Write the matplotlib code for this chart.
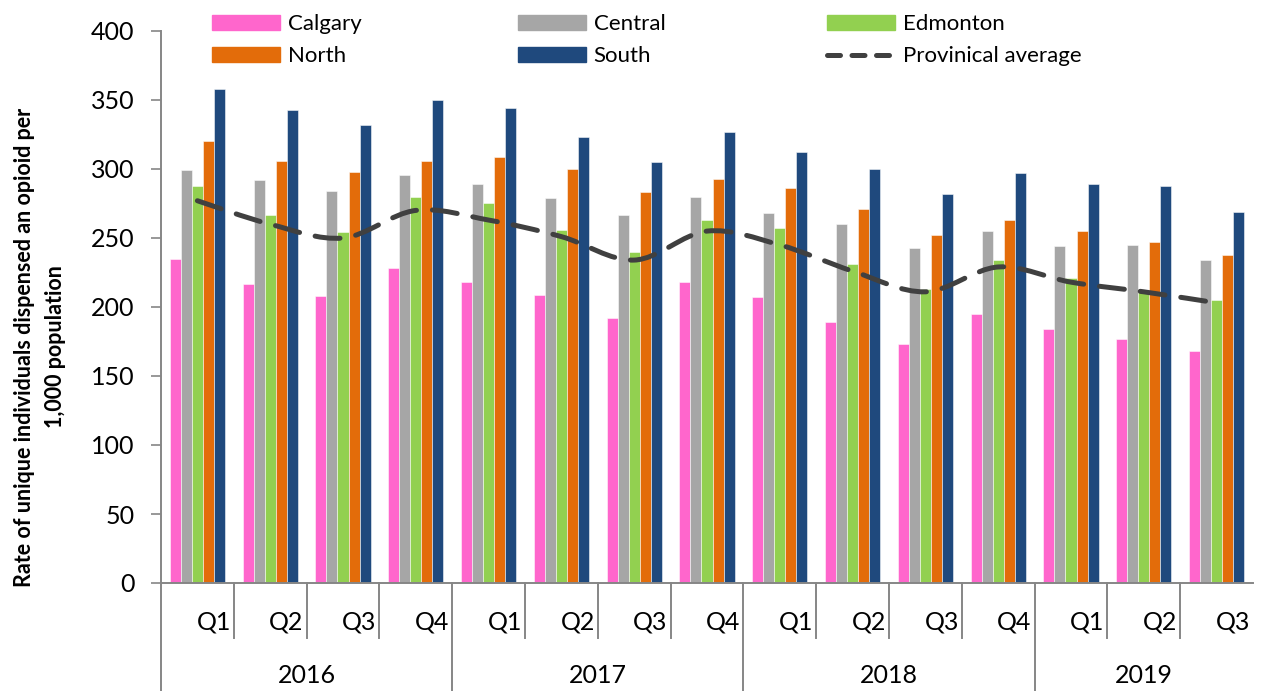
import matplotlib
matplotlib.use("Agg")
import matplotlib.pyplot as plt
from matplotlib.path import Path
from matplotlib.patches import PathPatch, Patch
from matplotlib.lines import Line2D

plt.rcParams['font.family'] = ['Lato', 'DejaVu Sans']

years = ["2016", "2017", "2018", "2019"]
quarters = ["Q1", "Q2", "Q3", "Q4", "Q1", "Q2", "Q3", "Q4",
            "Q1", "Q2", "Q3", "Q4", "Q1", "Q2", "Q3"]
year_sizes = [4, 4, 4, 3]

calgary = [235, 217, 208, 228, 218, 209, 192, 218, 207, 189, 173, 195, 184, 177, 168]
central = [299, 292, 284, 296, 289, 279, 267, 280, 268, 260, 243, 255, 244, 245, 234]
edmonton = [288, 267, 254, 280, 275, 256, 240, 263, 257, 231, 213, 234, 221, 211, 205]
north = [320, 306, 298, 306, 309, 300, 283, 293, 286, 271, 252, 263, 255, 247, 238]
south = [358, 343, 332, 350, 344, 323, 305, 327, 312, 300, 282, 297, 289, 288, 269]
prov_avg = [277, 260, 250, 270, 263, 251, 234, 255, 245, 226, 211, 229, 218, 211, 203]

series = [("Calgary", calgary, "#FF66CC"),
          ("Central", central, "#A6A6A6"),
          ("Edmonton", edmonton, "#92D050"),
          ("North", north, "#E36C0A"),
          ("South", south, "#1F497D")]

fig = plt.figure(figsize=(12.61, 6.91), dpi=100)
ax = fig.add_axes([161 / 1261, 1 - 583 / 691, (1253 - 161) / 1261, 552 / 691])

n = len(quarters)
bw = 0.152
for k, (name, vals, col) in enumerate(series):
    xs = [i + (k - 2) * bw for i in range(n)]
    ax.bar(xs, vals, width=bw, color=col, edgecolor=(1, 1, 1, 0.6), linewidth=0.6, zorder=2)

# smoothed line (excel style bezier through the points)
pts = list(zip(range(n), prov_avg))
verts = [pts[0]]
codes = [Path.MOVETO]
for i in range(n - 1):
    p0 = pts[i - 1] if i > 0 else pts[i]
    p1 = pts[i]
    p2 = pts[i + 1]
    p3 = pts[i + 2] if i + 2 < n else pts[i + 1]
    c1 = (p1[0] + (p2[0] - p0[0]) / 6, p1[1] + (p2[1] - p0[1]) / 6)
    c2 = (p2[0] - (p3[0] - p1[0]) / 6, p2[1] - (p3[1] - p1[1]) / 6)
    verts += [c1, c2, p2]
    codes += [Path.CURVE4] * 3
line_patch = PathPatch(Path(verts, codes), facecolor="none", edgecolor="#404040",
                       linewidth=3.6, linestyle=(0, (5, 3.2)), capstyle="round", zorder=3)
ax.add_patch(line_patch)

ax.set_xlim(-0.5, n - 0.5)
ax.set_ylim(0, 400)
ax.set_yticks(range(0, 401, 50))
ax.tick_params(axis="y", labelsize=18, length=7, width=1.2, color="#868686", pad=12)
ax.tick_params(axis="x", bottom=False, labelbottom=False)
for s in ["top", "right"]:
    ax.spines[s].set_visible(False)
for s in ["left", "bottom"]:
    ax.spines[s].set_color("#868686")
    ax.spines[s].set_linewidth(1.4)

# category axis: quarters and years
tr = ax.get_xaxis_transform()
for i, q in enumerate(quarters):
    ax.text(i + 0.46, -0.07, q, transform=tr, ha="right", va="center", fontsize=18)
start = 0
boundaries = [0]
for y, size in zip(years, year_sizes):
    ax.text(start + size / 2 - 0.5, -0.167, y, transform=tr, ha="center", va="center", fontsize=18)
    start += size
    boundaries.append(start)
for i in range(n):
    x = i - 0.5
    if i in boundaries:
        ax.plot([x, x], [0, -0.22], transform=tr, color="#868686", lw=1.4, clip_on=False)
    else:
        ax.plot([x, x], [0, -0.1], transform=tr, color="#868686", lw=1.4, clip_on=False)

fig.text(40 / 1261, 1 - 347 / 691,
         "Rate of unique individuals dispensed an opioid per\n1,000 population",
         rotation=90, ha="center", va="center", fontsize=15.5, fontweight="bold",
         multialignment="center", linespacing=1.6)

# legend in three columns
handles = [Patch(color=c, label=nm) for nm, _, c in series]
handles.append(Line2D([], [], color="#404040", lw=3.6, linestyle=(0, (2.6, 2.3)),
                      dash_capstyle="round", label="Provinical average"))
cols = [(handles[0], handles[3]), (handles[1], handles[4]), (handles[2], handles[5])]
col_x = [212, 518, 827]
for hx, hs in zip(col_x, cols):
    fig.legend(handles=list(hs), loc="upper left", bbox_to_anchor=(hx / 1261, 1 - 14 / 691),
               frameon=False, fontsize=16, handlelength=3.06, handleheight=0.65,
               handletextpad=0.35, labelspacing=0.56, borderpad=0, borderaxespad=0)

fig.savefig("out.png", dpi=100)
